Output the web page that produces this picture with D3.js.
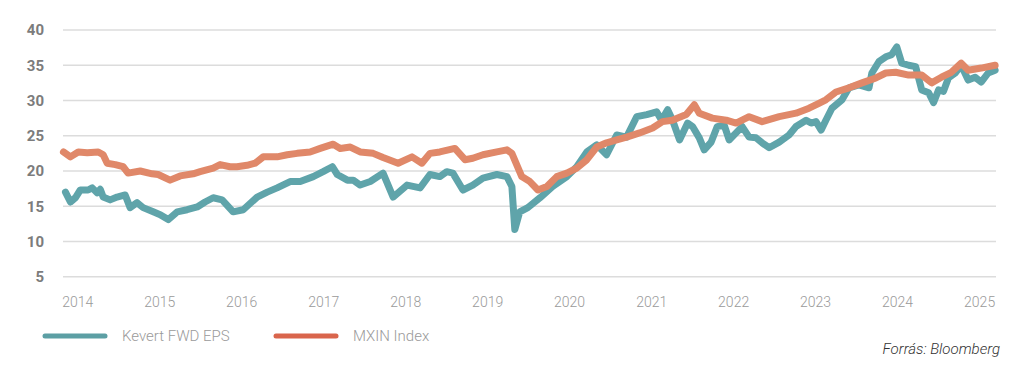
<!DOCTYPE html>
<html lang="hu">
<head>
    <meta charset="UTF-8">
    <title>Kevert FWD EPS vs MXIN Index</title>
    <script src="https://d3js.org/d3.v7.min.js"></script>
    <style>
        body { margin: 0; background: #fff; }
        svg { display: block; }
        text { font-family: Roboto, "Open Sans", sans-serif; }
        .grid line { stroke: #dcdcdc; stroke-width: 1.5px; }
        .ylab { font-size: 15px; font-weight: bold; fill: #7c7c7c; text-anchor: end; }
        .xlab { font-size: 14px; font-weight: 300; fill: #9a9a9a; text-anchor: middle; }
        .series { fill: none; stroke-width: 7px; stroke-linecap: round; stroke-linejoin: round; }
        .legend text { font-size: 15px; font-weight: 300; fill: #9a9a9a; }
        .source { font-size: 15px; font-style: italic; font-weight: 300; fill: #333; text-anchor: end; }
    </style>
</head>
<body>
<script>
    const width = 1024;
    const height = 370;

    // Kevert FWD EPS
    const epsData = [
        ["2013-11-07", 17.0], ["2013-11-29", 15.6], ["2013-12-21", 16.2], ["2014-01-12", 17.3],
        ["2014-02-16", 17.3], ["2014-03-06", 17.6], ["2014-03-28", 16.9], ["2014-04-11", 17.4],
        ["2014-04-24", 16.3], ["2014-05-25", 15.9], ["2014-06-25", 16.3], ["2014-07-31", 16.6],
        ["2014-08-22", 14.8], ["2014-09-22", 15.5], ["2014-10-19", 14.8], ["2014-12-03", 14.2],
        ["2015-01-03", 13.8], ["2015-02-08", 13.1], ["2015-03-20", 14.2], ["2015-05-03", 14.5],
        ["2015-06-17", 14.9], ["2015-07-22", 15.6], ["2015-08-27", 16.2], ["2015-10-06", 15.9],
        ["2015-11-24", 14.2], ["2016-01-08", 14.5], ["2016-03-10", 16.3], ["2016-04-24", 17.0],
        ["2016-06-07", 17.6], ["2016-08-04", 18.5], ["2016-09-18", 18.5], ["2016-11-15", 19.2],
        ["2016-12-29", 19.9], ["2017-02-08", 20.6], ["2017-03-02", 19.5], ["2017-04-16", 18.7],
        ["2017-05-12", 18.7], ["2017-06-12", 18.0], ["2017-07-27", 18.5], ["2017-09-22", 19.7],
        ["2017-11-06", 16.3], ["2018-01-07", 18.0], ["2018-03-06", 17.6], ["2018-04-19", 19.5],
        ["2018-06-02", 19.2], ["2018-07-03", 19.9], ["2018-07-30", 19.7], ["2018-09-13", 17.3],
        ["2018-10-27", 18.0], ["2018-12-11", 19.0], ["2019-02-11", 19.5], ["2019-03-28", 19.2],
        ["2019-04-19", 17.8], ["2019-05-02", 11.7], ["2019-05-24", 14.2], ["2019-06-29", 14.8],
        ["2019-08-22", 16.2], ["2019-10-18", 17.8], ["2019-12-20", 19.2], ["2020-02-02", 20.6],
        ["2020-03-18", 22.7], ["2020-05-01", 23.7], ["2020-06-14", 22.3], ["2020-07-29", 25.1],
        ["2020-09-11", 24.8], ["2020-10-26", 27.7], ["2020-12-10", 28.0], ["2021-01-23", 28.4],
        ["2021-02-14", 27.2], ["2021-03-13", 28.7], ["2021-04-04", 27.2], ["2021-05-05", 24.4],
        ["2021-06-10", 26.8], ["2021-07-02", 26.3], ["2021-08-01", 24.7], ["2021-08-23", 23.0],
        ["2021-09-23", 24.1], ["2021-10-20", 26.3], ["2021-11-20", 26.5], ["2021-12-12", 24.4],
        ["2022-01-12", 25.4], ["2022-02-08", 26.3], ["2022-03-11", 24.8], ["2022-04-11", 24.7],
        ["2022-05-08", 24.0], ["2022-06-08", 23.3], ["2022-07-23", 24.1], ["2022-09-05", 25.1],
        ["2022-10-06", 26.3], ["2022-11-20", 27.2], ["2022-12-12", 26.8], ["2023-01-03", 27.0],
        ["2023-01-26", 25.8], ["2023-02-16", 27.2], ["2023-03-15", 28.9], ["2023-04-29", 30.1],
        ["2023-05-30", 31.8], ["2023-07-13", 32.2], ["2023-08-27", 31.8], ["2023-09-09", 33.9],
        ["2023-10-10", 35.5], ["2023-11-10", 36.2], ["2023-12-06", 36.5], ["2023-12-29", 37.6],
        ["2024-01-20", 35.3], ["2024-02-20", 35.0], ["2024-03-22", 34.8], ["2024-04-18", 31.5],
        ["2024-05-19", 31.1], ["2024-06-10", 29.7], ["2024-07-02", 31.5], ["2024-07-24", 31.3],
        ["2024-08-15", 33.2], ["2024-09-15", 33.9], ["2024-10-11", 35.0], ["2024-11-11", 32.9],
        ["2024-12-12", 33.3], ["2025-01-08", 32.6], ["2025-02-08", 33.9], ["2025-03-11", 34.3]
    ];

    // MXIN Index
    const mxinData = [
        ["2013-10-29", 22.7], ["2013-11-29", 22.0], ["2014-01-03", 22.7], ["2014-02-12", 22.6],
        ["2014-04-02", 22.7], ["2014-04-24", 22.3], ["2014-05-12", 21.1], ["2014-06-17", 20.9],
        ["2014-07-22", 20.6], ["2014-08-13", 19.7], ["2014-10-06", 20.0], ["2014-11-28", 19.6],
        ["2014-12-25", 19.5], ["2015-02-16", 18.7], ["2015-04-02", 19.3], ["2015-05-30", 19.6],
        ["2015-06-30", 19.9], ["2015-08-27", 20.4], ["2015-09-27", 20.9], ["2015-11-10", 20.6],
        ["2015-12-11", 20.6], ["2016-01-25", 20.8], ["2016-03-01", 21.1], ["2016-04-06", 22.0],
        ["2016-06-07", 22.0], ["2016-07-22", 22.3], ["2016-09-04", 22.5], ["2016-11-01", 22.7],
        ["2016-12-16", 23.2], ["2017-02-12", 23.8], ["2017-03-15", 23.2], ["2017-04-29", 23.4],
        ["2017-06-12", 22.7], ["2017-08-09", 22.5], ["2017-09-22", 21.9], ["2017-11-28", 21.1],
        ["2018-01-29", 22.0], ["2018-03-14", 21.1], ["2018-04-19", 22.5], ["2018-06-02", 22.7],
        ["2018-08-08", 23.2], ["2018-09-22", 21.6], ["2018-10-27", 21.8], ["2018-12-11", 22.3],
        ["2019-02-11", 22.7], ["2019-03-28", 23.0], ["2019-04-19", 22.5], ["2019-06-02", 19.2],
        ["2019-07-08", 18.5], ["2019-08-13", 17.3], ["2019-09-22", 17.8], ["2019-11-05", 19.2],
        ["2019-12-20", 19.7], ["2020-02-02", 20.4], ["2020-03-18", 21.6], ["2020-05-01", 23.4],
        ["2020-06-14", 24.0], ["2020-07-29", 24.4], ["2020-09-11", 24.8], ["2020-11-08", 25.4],
        ["2021-01-05", 26.1], ["2021-02-18", 27.0], ["2021-04-03", 27.2], ["2021-06-04", 28.0],
        ["2021-07-10", 29.4], ["2021-08-01", 28.2], ["2021-09-28", 27.5], ["2021-11-29", 27.2],
        ["2022-01-12", 26.8], ["2022-03-11", 27.7], ["2022-05-08", 27.0], ["2022-07-23", 27.7],
        ["2022-10-06", 28.2], ["2022-12-03", 28.9], ["2023-01-16", 29.6], ["2023-02-16", 30.1],
        ["2023-04-02", 31.2], ["2023-05-30", 31.8], ["2023-07-27", 32.5], ["2023-09-27", 33.2],
        ["2023-11-10", 33.9], ["2023-12-24", 34.0], ["2024-02-20", 33.6], ["2024-04-18", 33.6],
        ["2024-06-01", 32.5], ["2024-07-15", 33.3], ["2024-08-28", 34.0], ["2024-10-11", 35.3],
        ["2024-11-11", 34.3], ["2025-01-08", 34.6], ["2025-03-11", 35.0]
    ];

    const yTicks = [5, 10, 15, 20, 25, 30, 35, 40];
    const xTickYears = [2014, 2015, 2016, 2017, 2018, 2019, 2020, 2021, 2022, 2023, 2024, 2025];

    const seriesNames = ["Kevert FWD EPS", "MXIN Index"];

    const parse = d3.timeParse("%Y-%m-%d");

    const x = d3.scaleTime()
        .domain([parse("2013-10-27"), parse("2025-03-15")])
        .range([63, 996]);
    const y = d3.scaleLinear().domain([5, 40]).range([276.7, 30]);

    const svg = d3.select("body").append("svg").attr("width", width).attr("height", height);

    // gridlines
    svg.append("g").attr("class", "grid")
        .selectAll("line")
        .data(yTicks)
        .enter()
        .append("line")
        .attr("x1", 63).attr("x2", 996)
        .attr("y1", d => y(d)).attr("y2", d => y(d));

    svg.append("g").selectAll("text")
        .data(yTicks)
        .enter()
        .append("text")
        .attr("class", "ylab")
        .attr("x", 44)
        .attr("y", d => y(d))
        .attr("dy", "0.36em")
        .text(d => d);

    svg.append("g").selectAll("text")
        .data(xTickYears)
        .enter()
        .append("text")
        .attr("class", "xlab")
        .attr("x", d => x(new Date(d, 0, 1)))
        .attr("y", 307)
        .text(d => d);

    const line = d3.line()
        .x(d => x(parse(d[0])))
        .y(d => y(d[1]));

    svg.append("path").attr("class", "series")
        .attr("stroke", "#5fa4aa")
        .attr("d", line(epsData));
    svg.append("path").attr("class", "series")
        .attr("stroke", "#e08869")
        .attr("d", line(mxinData));

    // legend
    const legendColors = ["#5c9fa4", "#d9654c"];
    const legendX = [45, 276];
    const legend = svg.append("g").attr("class", "legend")
        .selectAll("g")
        .data(seriesNames)
        .enter()
        .append("g")
        .attr("transform", (d, i) => `translate(${legendX[i]},336)`);
    legend.append("line")
        .attr("x1", 0).attr("x2", 60)
        .attr("stroke", (d, i) => legendColors[i])
        .attr("stroke-width", 5)
        .attr("stroke-linecap", "round");
    legend.append("text")
        .attr("x", 77)
        .attr("dy", "0.35em")
        .text(d => d);

    svg.append("text").attr("class", "source")
        .attr("x", 1000).attr("y", 354)
        .text("Forrás: Bloomberg");
</script>
</body>
</html>
